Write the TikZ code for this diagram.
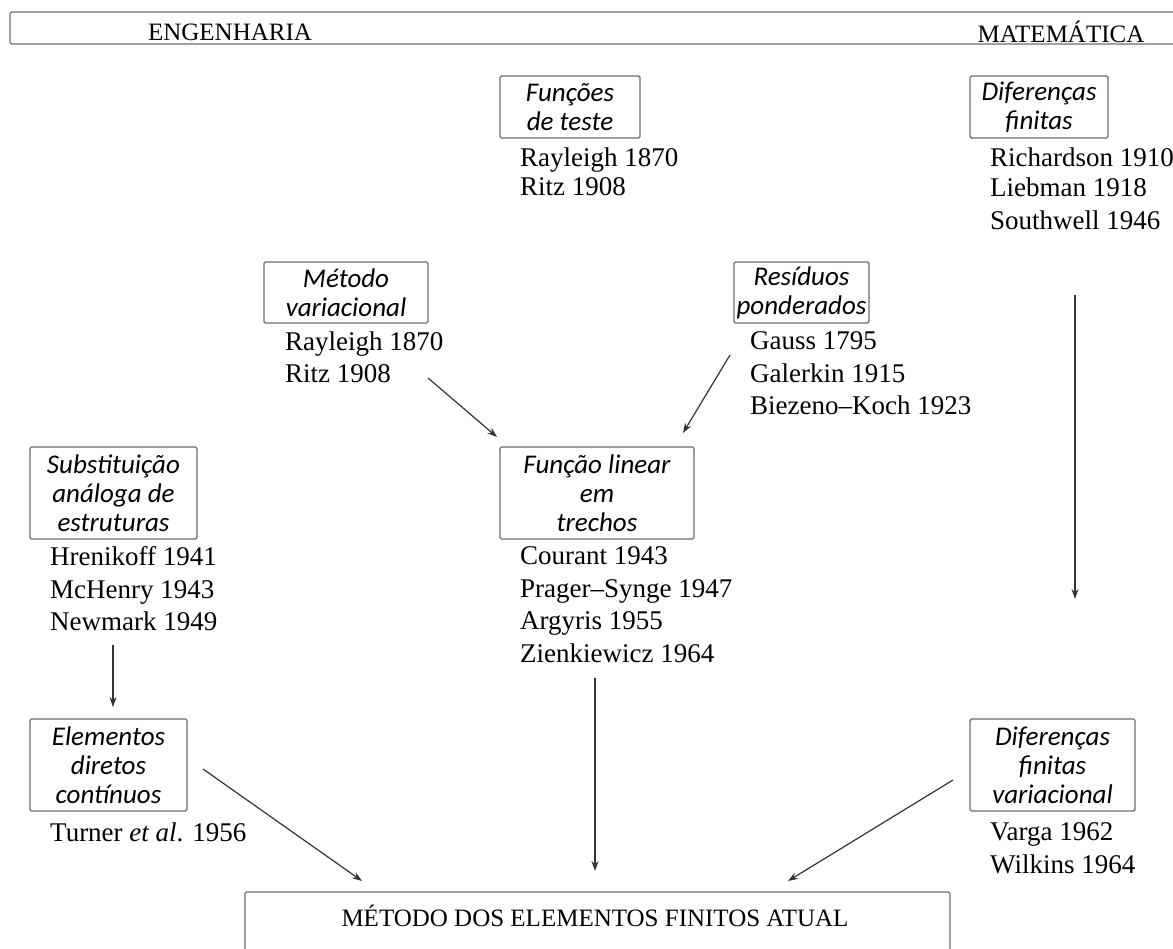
\documentclass[tikz,border=0pt]{standalone}
\usepackage{fontspec}
\setmainfont{Liberation Serif}
\newfontfamily\boxfont{Carlito}
\usetikzlibrary{arrows.meta}
\definecolor{boxgray}{HTML}{6E6E6E}
\definecolor{arrowgray}{HTML}{333333}
\begin{document}
\begin{tikzpicture}[x=1pt,y=-1pt,
  topic/.style={draw=boxgray, line width=1.4pt, rounded corners=1.5pt, inner sep=0pt,
    align=center, font=\boxfont\itshape\fontsize{27}{29}\selectfont},
  lines/.style={anchor=north west, inner sep=0pt, align=left,
    font=\fontsize{27}{32.5}\selectfont},
  head/.style={inner sep=0pt, font=\fontsize{25}{29}\selectfont},
  conn/.style={draw=arrowgray, line width=1.2pt, -{Stealth[length=10pt,width=7pt]}}]
\useasboundingbox (0,0) rectangle (1173,949);
\fill[white] (0,0) rectangle (1173,949);
% top bar
\node[draw=boxgray, line width=1.4pt, rounded corners=1.5pt, minimum width=1190pt, minimum height=32pt, inner sep=0pt] (bar) at (605,28) {};
\node[head] (eng) at (230,32) {ENGENHARIA};
\node[head] (mat) at (1061,32) {MATEMÁTICA};
% topic boxes
\node[topic, minimum width=140pt, minimum height=62pt] (teste) at (570,107) {Funções\\de teste};
\node[topic, minimum width=138pt, minimum height=62pt] (dif) at (1039,107) {Diferenças\\finitas};
\node[topic, minimum width=164pt, minimum height=61pt] (var) at (346,292.5) {Método\\variacional};
\node[topic, minimum width=135pt, minimum height=61pt] (res) at (801.5,292.5) {Resíduos\\ponderados};
\node[topic, minimum width=194pt, minimum height=92pt] (lin) at (597,493) {Função linear\\em\\trechos};
\node[topic, minimum width=167pt, minimum height=92pt] (sub) at (113.5,493) {Substituição\\análoga de\\estruturas};
\node[topic, minimum width=157pt, minimum height=92pt] (ele) at (108.5,765) {Elementos\\diretos\\contínuos};
\node[topic, minimum width=165pt, minimum height=92pt] (dfv) at (1052.5,765) {Diferenças\\finitas\\variacional};
% bottom box
\node[draw=boxgray, line width=1.4pt, rounded corners=1.5pt, minimum width=705pt, minimum height=80pt, inner sep=0pt] (mef) at (597.5,932) {};
\node[head] (meft) at (595,916) {MÉTODO DOS ELEMENTOS FINITOS ATUAL};
% author lists
\node[lines] (tt) at (520,147.5) {Rayleigh 1870\\[-3pt]Ritz 1908};
\node[lines] (dt) at (990,147.5) {Richardson 1910\\[-2pt]Liebman 1918\\Southwell 1946};
\node[lines] (vt) at (285,331.5) {Rayleigh 1870\\Ritz 1908};
\node[lines] (rt) at (750,331.5) {Gauss 1795\\Galerkin 1915\\Biezeno–Koch 1923};
\node[lines] (lt) at (520,546.5) {Courant 1943\\Prager–Synge 1947\\Argyris 1955\\Zienkiewicz 1964};
\node[lines] (st) at (50,546.5) {Hrenikoff 1941\\McHenry 1943\\Newmark 1949};
\node[lines] (et) at (50,822.5) {Turner \textit{et al}. 1956};
\node[lines] (vf) at (990,822.5) {Varga 1962\\Wilkins 1964};
% connector end points
\coordinate (a1s) at (428,378);
\coordinate (a1e) at (497,437);
\coordinate (a2s) at (730,355);
\coordinate (a2e) at (683,433);
\coordinate (a3s) at (1075,295);
\coordinate (a3e) at (1075,599);
\coordinate (a4s) at (113,645);
\coordinate (a4e) at (113,707);
\coordinate (a5s) at (203,769);
\coordinate (a5e) at (362,881);
\coordinate (a6s) at (595,678);
\coordinate (a6e) at (595,871);
\coordinate (a7s) at (953,780);
\coordinate (a7e) at (788,881);
\draw[conn] (a1s) -- (a1e);
\draw[conn] (a2s) -- (a2e);
\draw[conn] (a3s) -- (a3e);
\draw[conn] (a4s) -- (a4e);
\draw[conn] (a5s) -- (a5e);
\draw[conn] (a6s) -- (a6e);
\draw[conn] (a7s) -- (a7e);
\end{tikzpicture}
\end{document}
